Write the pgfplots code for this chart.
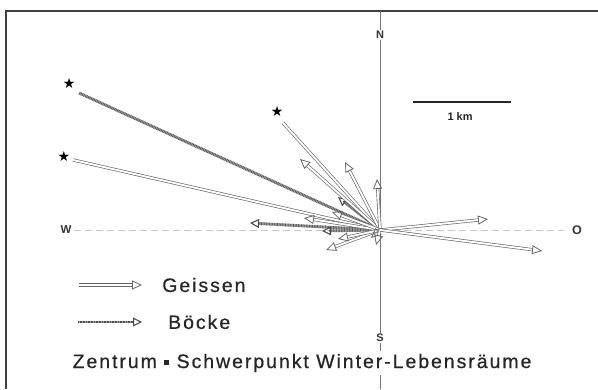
\documentclass[border=0pt]{standalone}
\usepackage{pgfplots}
\pgfplotsset{compat=1.18}
\usetikzlibrary{arrows.meta}
\usepackage{fontspec}
\setmainfont{Liberation Sans}
\newfontfamily\wide[LetterSpace=10, FakeBold=0.6]{Liberation Sans}
\newfontfamily\dejavu{DejaVu Sans}

\tikzset{
  geiss/.style={draw=black!60, double=white, double distance=1.9pt, line width=0.65pt},
  boeck/.style={draw=black!35, line width=2.8pt,
     postaction={draw=black!70, line width=2.8pt, dash pattern=on 0.6pt off 1pt}},
  ghead/.style={-{Triangle[open, length=10pt, width=9pt, line width=0.8pt]}},
  bhead/.style={draw=black!70, line width=1pt, -{Triangle[open, length=9pt, width=9pt, line width=1.1pt]}},
}

\begin{document}
\begin{tikzpicture}
\begin{axis}[
  width=598pt, height=389pt, scale only axis,
  xmin=-3.918, xmax=2.247, ymin=-1.639, ymax=2.371,
  hide axis, clip=false,
]
\coordinate (bl) at (rel axis cs:0,0);
\coordinate (tr) at (rel axis cs:1,1);
% frame
\draw[black!75, line width=1.2pt] (axis cs:-3.856,-1.639) -- (axis cs:-3.856,2.258) -- (axis cs:2.247,2.258);
% compass lines
\draw[black!55, line width=0.7pt] (axis cs:0,2.258) -- (axis cs:0,-1.639);
\draw[black!22, line width=0.6pt, dash pattern=on 7pt off 4pt] (axis cs:-3.15,0) -- (axis cs:1.9,0);

% Boecke (truncated, marked *)
\addplot[boeck] coordinates {(0,0) (-3.103,1.412)};
% Geissen (truncated, marked *)
\addplot[geiss] coordinates {(0,0) (-3.165,0.722)};
\addplot[geiss] coordinates {(0,0) (-1.000,1.103)};
% Boecke with heads
\addplot[boeck] coordinates {(0,0) (-1.25,0.067)};
\addplot[bhead] coordinates {(-1.26,0.068) (-1.340,0.072)};
\addplot[boeck] coordinates {(0,0) (-0.52,-0.009)};
\addplot[bhead] coordinates {(-0.53,-0.009) (-0.598,-0.010)};
\addplot[boeck] coordinates {(0,0) (-0.37,0.290)};
\addplot[bhead] coordinates {(-0.38,0.298) (-0.433,0.340)};
% Geissen with heads
\addplot[geiss, ghead] coordinates {(0,0) (-0.825,0.732)};
\addplot[geiss, ghead] coordinates {(0,0) (-0.361,0.701)};
\addplot[geiss, ghead] coordinates {(0,0) (-0.031,0.526)};
\addplot[geiss, ghead] coordinates {(0,0) (-0.784,0.124)};
\addplot[geiss, ghead] coordinates {(0,0) (-0.495,0.186)};
\addplot[geiss, ghead] coordinates {(0,0) (-0.557,-0.206)};
\addplot[geiss, ghead] coordinates {(0,0) (-0.433,-0.093)};
\addplot[geiss, ghead] coordinates {(0,0) (-0.093,-0.082)};
\addplot[geiss, ghead] coordinates {(0,0) (-0.041,-0.155)};
\addplot[geiss, ghead] coordinates {(0,0) (1.113,0.113)};
\addplot[geiss, ghead] coordinates {(0,0) (1.670,-0.216)};
% stars
\addplot[only marks, mark=text, text mark={\dejavu\fontsize{14}{14}\selectfont ★}, black!85] coordinates {(-3.206,1.515) (-3.258,0.753) (-1.062,1.227)};

% compass letters
\node[fill=white, inner sep=1pt, font=\bfseries\fontsize{11}{12}\selectfont, text=black!80] at (axis cs:0,2.010) {N};
\node[fill=white, inner sep=1.5pt, font=\bfseries\fontsize{11}{12}\selectfont, text=black!80] at (axis cs:0,-1.113) {S};
\node[font=\bfseries\fontsize{11.5}{12}\selectfont, text=black!80] at (axis cs:-3.237,0) {W};
\node[font=\bfseries\fontsize{12.5}{12}\selectfont, text=black!80] at (axis cs:2.031,0) {O};

% scale bar
\draw[black!85, line width=1.8pt] (axis cs:0.340,1.320) -- (axis cs:1.351,1.320);
\node[font=\bfseries\fontsize{11}{11}\selectfont, text=black!85] at (axis cs:0.825,1.165) {1 km};

% legend
\draw[geiss, ghead] (axis cs:-3.103,-0.567) -- (axis cs:-2.454,-0.567);
\node[anchor=west, inner sep=0pt, font=\wide\fontsize{19.5}{20}\selectfont, text=black!85] at (axis cs:-2.247,-0.567) {Geissen};
\draw[boeck] (axis cs:-3.113,-0.948) -- (axis cs:-2.55,-0.948);
\draw[bhead] (axis cs:-2.56,-0.948) -- (axis cs:-2.454,-0.948);
\node[anchor=west, inner sep=0pt, font=\wide\fontsize{19.5}{20}\selectfont, text=black!85] at (axis cs:-2.186,-0.948) {Böcke};

% caption
\node[fill=white, inner sep=3pt, font=\wide\fontsize{19.5}{20}\selectfont, text=black!85] at (axis cs:-0.804,-1.371) {Zentrum \raisebox{3pt}{\rule{5pt}{5pt}} Schwerpunkt Winter-Lebensräume};
\end{axis}
\pgfresetboundingbox
\useasboundingbox (bl) rectangle (tr);
\end{tikzpicture}
\end{document}
